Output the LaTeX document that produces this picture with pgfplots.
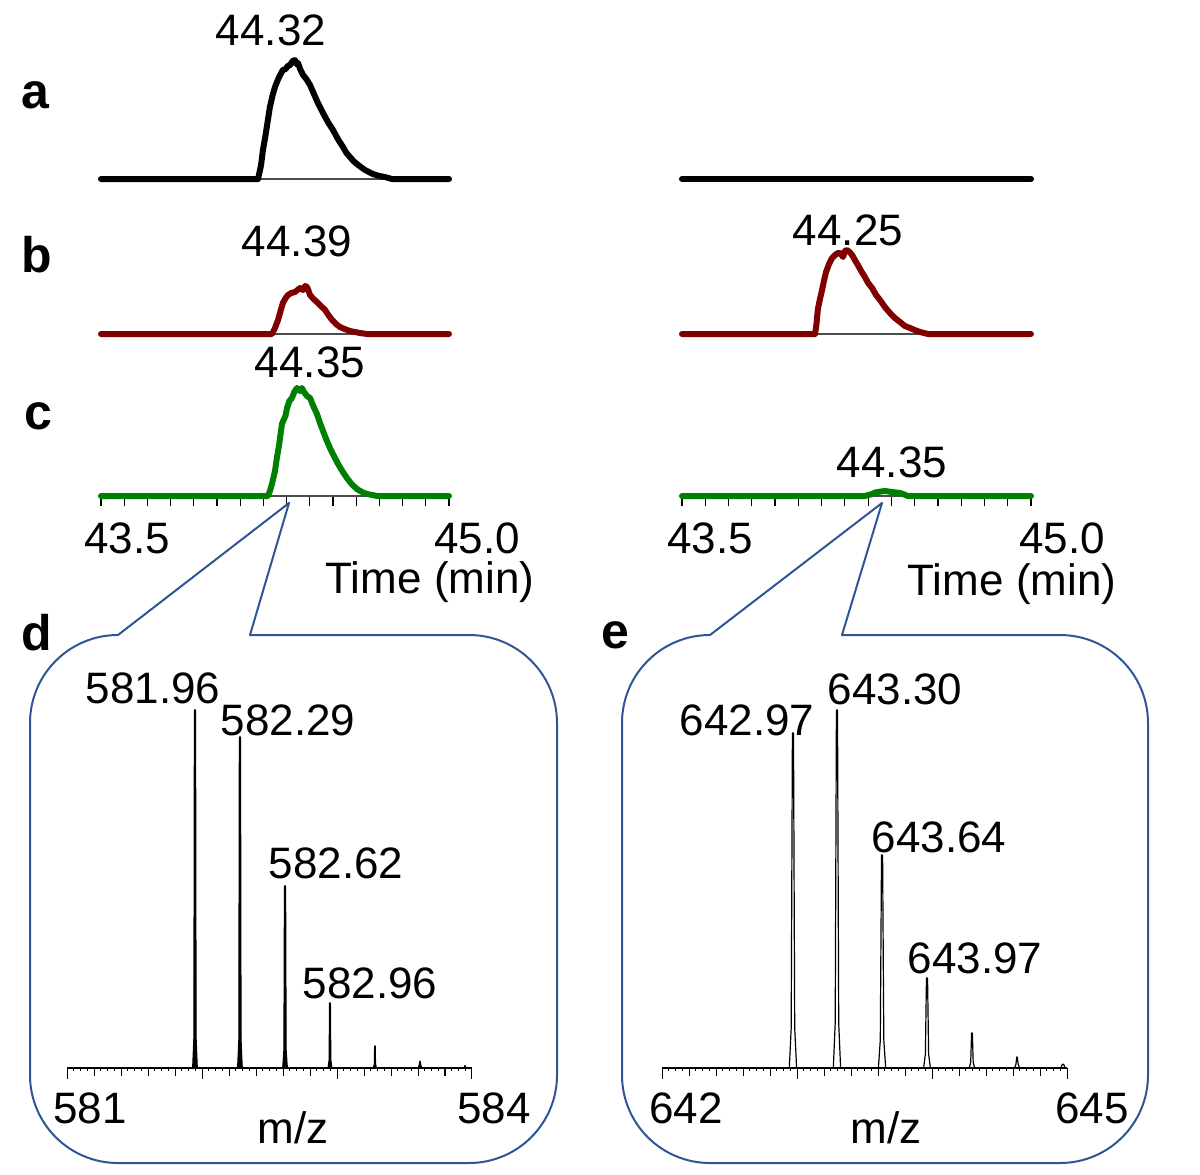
\documentclass[border=0pt]{standalone}
\usepackage{fontspec}
\setmainfont{Liberation Sans}
\usepackage{pgfplots}
\pgfplotsset{compat=1.18}
\definecolor{dred}{RGB}{128,0,0}
\definecolor{dgreen}{RGB}{0,128,0}
\definecolor{cblue}{RGB}{47,85,151}
\newcommand\lab{\fontsize{22}{26}\selectfont}
\newcommand\plab{\fontsize{25}{30}\selectfont\bfseries}
\pgfplotsset{
  chrom/.style={scale only axis, width=174pt, height=65pt, xmin=43.5, xmax=45.0,
    ymin=0, ymax=130, clip=false, anchor=south west, axis lines=none},
  chromc/.style={scale only axis, width=174pt, height=65pt, xmin=43.5, xmax=45.0,
    ymin=0, ymax=130, clip=false, anchor=south west,
    axis x line*=bottom, axis y line=none, ytick=\empty,
    xtick={43.5,43.6,43.7,43.8,43.9,44.0,44.1,44.2,44.3,44.4,44.5,44.6,44.7,44.8,44.9,45.0},
    xticklabels={}, tick align=outside, major tick length=5pt,
    tick style={black, line width=0.6pt},
    x axis line style={black!70, line width=0.6pt}},
  spec/.style={scale only axis, width=202.5pt, height=200pt,
    ymin=0, ymax=400, clip=false, anchor=south west,
    axis x line*=bottom, axis y line=none, ytick=\empty,
    xticklabels={}, tick align=outside, major tick length=4pt,
    minor x tick num=3, minor tick length=1.5pt,
    extra x tick labels={}, extra x tick style={major tick length=5.5pt},
    tick style={black, line width=0.5pt},
    x axis line style={black, line width=0.7pt}},
  thick curve/.style={line width=3pt, line join=round, line cap=round},
}
\begin{document}
\begin{tikzpicture}
\useasboundingbox (0,0) rectangle (600pt,-587pt);

% ---------- row a ----------
\begin{axis}[chrom, at={(50.5pt,-89.5pt)}]
\addplot[black!70, line width=0.6pt] coordinates {(44.177,0) (44.754,0)};
\addplot[black, thick curve] coordinates {
(43.5,0) (44.177,0) (44.190,14) (44.198,29) (44.208,42) (44.216,54) (44.228,72)
(44.240,84) (44.250,92) (44.262,99) (44.272,104) (44.284,109) (44.296,110)
(44.305,113) (44.315,114) (44.326,118) (44.336,119) (44.342,115) (44.349,116)
(44.360,109) (44.371,104) (44.385,100) (44.401,94) (44.418,85) (44.435,76)
(44.446,71) (44.457,66) (44.478,57) (44.500,49) (44.521,40) (44.543,32)
(44.558,26) (44.573,22) (44.588,18) (44.603,15) (44.620,12) (44.638,9)
(44.655,7) (44.672,5) (44.700,3) (44.724,2) (44.754,0) (45.0,0)};
\end{axis}
\begin{axis}[chrom, width=174.5pt, at={(341pt,-89.5pt)}]
\addplot[black, thick curve] coordinates {(43.5,0) (45.0,0)};
\end{axis}

% ---------- row b ----------
\begin{axis}[chrom, at={(50.5pt,-167pt)}]
\addplot[black!70, line width=0.6pt] coordinates {(44.237,0) (44.647,0)};
\addplot[dred, thick curve] coordinates {
(43.5,0) (44.237,0) (44.250,6) (44.263,14) (44.274,23) (44.284,31) (44.296,36)
(44.306,39) (44.320,41) (44.336,42) (44.347,44) (44.358,46) (44.371,44)
(44.380,48) (44.388,47) (44.395,43) (44.401,39) (44.416,35) (44.431,32)
(44.448,28) (44.466,24) (44.480,19) (44.496,14) (44.513,10) (44.530,7)
(44.550,5) (44.573,3) (44.595,2) (44.616,1) (44.647,0) (45.0,0)};
\end{axis}
\begin{axis}[chrom, width=174.5pt, at={(341pt,-167pt)}]
\addplot[black!70, line width=0.6pt] coordinates {(44.072,0) (44.557,0)};
\addplot[dred, thick curve] coordinates {
(43.5,0) (44.072,0) (44.078,10) (44.084,25) (44.093,35) (44.102,44) (44.110,53)
(44.119,62) (44.132,70) (44.145,76) (44.158,79) (44.170,81) (44.180,81)
(44.192,77) (44.200,83) (44.209,84) (44.220,82) (44.231,79) (44.243,74)
(44.256,69) (44.270,63) (44.286,57) (44.300,51) (44.317,46) (44.334,39)
(44.351,34) (44.372,27) (44.394,21) (44.415,16) (44.437,12) (44.458,8)
(44.480,6) (44.500,4) (44.523,2) (44.557,0) (45.0,0)};
\end{axis}

% ---------- row c ----------
\begin{axis}[chromc, at={(50.5pt,-248pt)}]
\addplot[dgreen, thick curve] coordinates {
(43.5,0) (44.220,0) (44.228,5) (44.237,12) (44.250,25) (44.258,38) (44.267,50)
(44.274,62) (44.280,72) (44.287,76) (44.295,80) (44.302,88) (44.312,95)
(44.323,98) (44.333,104) (44.345,108) (44.352,106) (44.358,105) (44.366,108)
(44.375,104) (44.388,100) (44.401,98) (44.415,90) (44.431,82) (44.444,73)
(44.457,65) (44.472,56) (44.487,48) (44.504,40) (44.522,32) (44.540,25)
(44.560,18) (44.580,12) (44.603,7) (44.625,4) (44.647,2) (44.670,1)
(44.690,0) (45.0,0)};
\end{axis}
\begin{axis}[chromc, width=174.5pt, at={(341pt,-248pt)}]
\addplot[dgreen, thick curve] coordinates {
(43.5,0) (44.286,0) (44.300,1) (44.317,2) (44.330,3.5) (44.342,4) (44.355,4.5)
(44.372,5) (44.388,4.5) (44.402,4) (44.420,3.5) (44.437,3) (44.455,1.5)
(44.471,0) (45.0,0)};
\end{axis}

% ---------- callouts ----------
\begin{scope}[x=0.5pt, y=-0.5pt]
\draw[cblue, line width=1pt, line join=round]
  (118,635) -- (289,503) -- (250,635) [rounded corners=44pt] -- (557,635)
  -- (557,1163) -- (30,1163) -- (30,635) -- (118,635);
\draw[cblue, line width=1pt, line join=round]
  (710,635) -- (882,503) -- (842,635) [rounded corners=44pt] -- (1148,635)
  -- (1148,1163) -- (622,1163) -- (622,635) -- (710,635);
\end{scope}

% ---------- spectrum d ----------
\begin{axis}[spec, at={(33.5pt,-534pt)}, xmin=581, xmax=584,
  xtick={581,581.2,581.4,581.6,581.8,582,582.2,582.4,582.6,582.8,583,583.2,583.4,583.6,583.8,584},
  extra x ticks={581,582,583,584}]
\addplot[black, fill=black, line width=0.6pt, line join=round] coordinates {
(581,0)
(581.931,0) (581.940,30) (581.944,358) (581.952,358) (581.956,30) (581.965,0)
(582.264,0) (582.273,28) (582.277,331) (582.285,331) (582.289,28) (582.298,0)
(582.598,0) (582.607,18) (582.611,182) (582.619,182) (582.623,18) (582.632,0)
(582.934,0) (582.942,8) (582.945,65) (582.951,65) (582.954,8) (582.962,0)
(583.270,0) (583.277,4) (583.279,22) (583.283,22) (583.285,4) (583.292,0)
(583.603,0) (583.611,4) (583.615,7) (583.619,4) (583.627,0)
(583.940,0) (583.948,2.5) (583.956,0)
(584,0)};
\end{axis}

% ---------- spectrum e ----------
\begin{axis}[spec, at={(331pt,-534pt)}, xmin=642, xmax=645,
  xtick={642,642.2,642.4,642.6,642.8,643,643.2,643.4,643.6,643.8,644,644.2,644.4,644.6,644.8,645},
  extra x ticks={642,643,644,645}]
\addplot[black, line width=0.6pt, line join=round] coordinates {
(642,0)
(642.943,0) (642.957,40) (642.966,335) (642.974,335) (642.983,40) (642.997,0)
(643.269,0) (643.283,45) (643.292,358) (643.300,358) (643.309,45) (643.323,0)
(643.603,0) (643.617,28) (643.626,213) (643.634,213) (643.643,28) (643.657,0)
(643.938,0) (643.951,14) (643.959,90) (643.967,90) (643.975,14) (643.988,0)
(644.276,0) (644.287,6) (644.293,35) (644.299,35) (644.305,6) (644.316,0)
(644.612,0) (644.622,4) (644.628,11) (644.632,11) (644.638,4) (644.648,0)
(644.955,0) (644.962,3) (644.970,4) (644.978,3) (644.985,0)
(645,0)};
\end{axis}

% ---------- text ----------
\begin{scope}[x=0.5pt, y=-0.5pt, every node/.style={inner sep=0pt}]
\node[font=\plab] at (35,95) {a};
\node[font=\plab] at (37,255) {b};
\node[font=\plab] at (38,416) {c};
\node[font=\plab] at (37,633) {d};
\node[font=\plab] at (615,635) {e};
\node[font=\lab] at (271,30) {44.32};
\node[font=\lab] at (297,241) {44.39};
\node[font=\lab] at (310,362) {44.35};
\node[font=\lab] at (848,230) {44.25};
\node[font=\lab] at (892,462) {44.35};
\node[font=\lab] at (127,538) {43.5};
\node[font=\lab] at (477,538) {45.0};
\node[font=\lab] at (430,582) {Time (min)};
\node[font=\lab] at (710,538) {43.5};
\node[font=\lab] at (1062,538) {45.0};
\node[font=\lab] at (1012,584) {Time (min)};
\node[font=\lab] at (153,688) {581.96};
\node[font=\lab] at (288,720) {582.29};
\node[font=\lab] at (336,863) {582.62};
\node[font=\lab] at (370,983) {582.96};
\node[font=\lab] at (747,720) {642.97};
\node[font=\lab] at (895,689) {643.30};
\node[font=\lab] at (939,837) {643.64};
\node[font=\lab] at (975,958) {643.97};
\node[font=\lab] at (90,1108) {581};
\node[font=\lab] at (494,1108) {584};
\node[font=\lab] at (293,1128) {m/z};
\node[font=\lab] at (686,1108) {642};
\node[font=\lab] at (1092,1108) {645};
\node[font=\lab] at (886,1128) {m/z};
\end{scope}
\end{tikzpicture}
\end{document}
